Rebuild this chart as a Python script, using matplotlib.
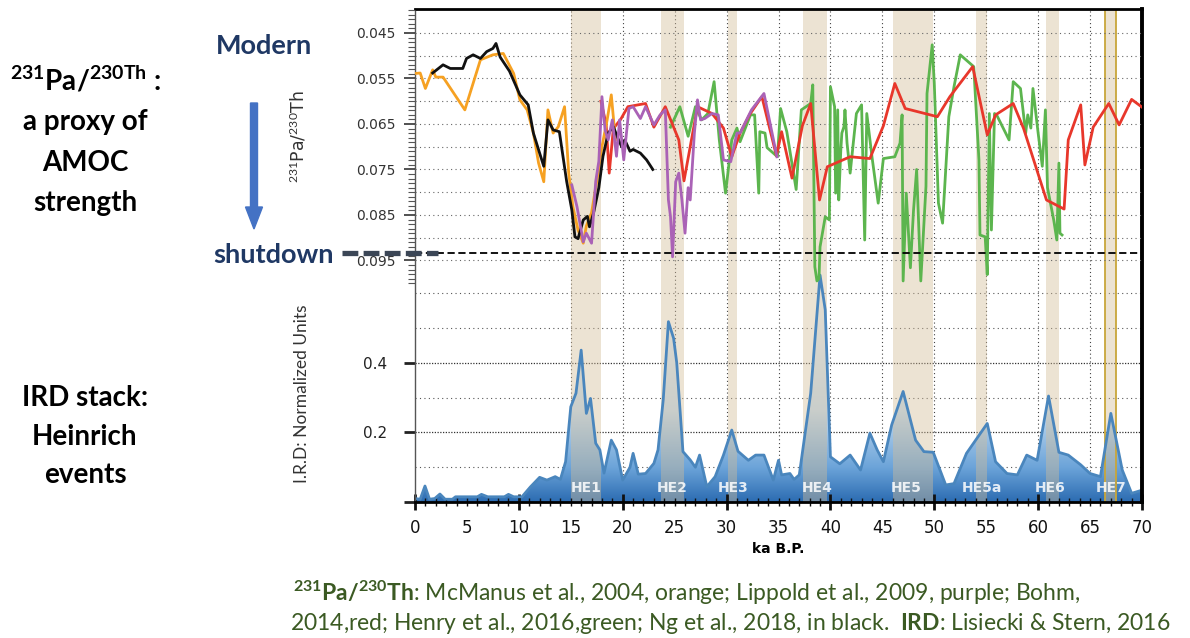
import numpy as np
import matplotlib
matplotlib.use("Agg")
import matplotlib.pyplot as plt
from matplotlib.colors import LinearSegmentedColormap
from matplotlib.patches import FancyArrow
from matplotlib.ticker import FixedLocator, MultipleLocator, FuncFormatter, NullFormatter

plt.rcParams['mathtext.fontset'] = 'custom'
plt.rcParams['mathtext.rm'] = 'Lato'
plt.rcParams['mathtext.bf'] = 'Lato:bold'
plt.rcParams['mathtext.it'] = 'Lato:italic'

# ---- IRD stack (Lisiecki & Stern 2016), normalized units ----
ird_age = [0.0, 0.5, 0.96, 1.4, 1.9, 2.4, 2.9, 3.6, 3.9, 6.0, 6.4, 7.0, 8.6, 9.0, 9.5,
           10.3, 11.1, 12.0, 12.7, 13.5, 14.0, 14.5, 15.0, 15.5, 16.0, 16.5, 16.9,
           17.4, 17.8, 18.2, 18.9, 19.4, 20.0, 20.7, 21.0, 21.5, 22.2, 23.0, 23.4,
           23.9, 24.4, 24.9, 25.2, 25.8, 26.5, 27.0, 27.4, 28.1, 28.9, 29.7, 30.5,
           31.1, 32.1, 32.8, 33.6, 34.5, 35.0, 35.3, 36.1, 36.5, 37.0, 38.1, 39.0,
           39.5, 40.0, 40.9, 41.9, 42.9, 43.8, 44.5, 45.1, 45.9, 47.0, 48.2, 49.0,
           49.9, 51.1, 51.9, 53.1, 55.1, 55.9, 57.0, 58.0, 58.9, 59.9, 61.0, 62.0,
           62.9, 64.1, 65.0, 66.0, 67.0, 68.1, 69.0, 70.0]
ird_val = [0.010, 0.008, 0.046, 0.008, 0.010, 0.023, 0.008, 0.008, 0.015, 0.015, 0.022,
           0.015, 0.015, 0.022, 0.015, 0.015, 0.043, 0.071, 0.063, 0.073, 0.065, 0.116,
           0.274, 0.313, 0.437, 0.255, 0.298, 0.169, 0.150, 0.083, 0.178, 0.150, 0.063,
           0.100, 0.140, 0.080, 0.082, 0.111, 0.150, 0.294, 0.519, 0.471, 0.401, 0.145,
           0.121, 0.100, 0.135, 0.044, 0.073, 0.135, 0.207, 0.146, 0.120, 0.135, 0.135,
           0.063, 0.120, 0.078, 0.082, 0.065, 0.078, 0.313, 0.653, 0.553, 0.130, 0.110,
           0.135, 0.092, 0.198, 0.150, 0.116, 0.222, 0.318, 0.178, 0.145, 0.143, 0.049,
           0.053, 0.140, 0.226, 0.116, 0.082, 0.078, 0.135, 0.120, 0.305, 0.143, 0.135,
           0.107, 0.082, 0.073, 0.255, 0.092, 0.025, 0.034]

# ---- 231Pa/230Th records ----
mcmanus_age = [0.0, 0.5, 1.0, 1.7, 2.0, 2.7, 4.8, 6.3, 7.5, 8.5, 9.5, 10.1, 10.8, 11.4,
               11.9, 12.4, 12.8, 13.3, 13.8, 14.4, 14.8, 15.2, 15.7, 16.2, 16.5, 17.0,
               17.5, 18.0, 18.5, 18.9, 19.3]
mcmanus_val = [0.0539, 0.0538, 0.0572, 0.0531, 0.0547, 0.0547, 0.0619, 0.0509, 0.0498,
               0.0495, 0.0539, 0.0597, 0.0619, 0.0670, 0.0736, 0.0777, 0.0619, 0.0670,
               0.0656, 0.0612, 0.0758, 0.0832, 0.0883, 0.0912, 0.0874, 0.0845, 0.0776,
               0.0700, 0.0641, 0.0586, 0.0685]

ng_age = [1.7, 2.7, 3.4, 4.6, 4.96, 5.6, 6.3, 6.9, 7.5, 7.8, 8.2, 9.1, 10.1, 10.9, 11.4,
          12.0, 12.4, 12.8, 13.3, 13.9, 14.6, 15.1, 15.4, 15.7, 16.2, 16.6, 16.8, 17.2,
          17.7, 18.1, 18.6, 19.1, 19.6, 19.9, 20.2, 20.7, 21.0, 21.7, 22.3, 22.9]
ng_val = [0.0538, 0.0520, 0.0528, 0.0528, 0.0506, 0.0498, 0.0506, 0.0491, 0.0484,
          0.0473, 0.0503, 0.0534, 0.0586, 0.0608, 0.0670, 0.0714, 0.0743, 0.0641,
          0.0663, 0.0667, 0.0776, 0.0839, 0.0898, 0.0902, 0.0861, 0.0853, 0.0876,
          0.0845, 0.0790, 0.0721, 0.0670, 0.0656, 0.0685, 0.0700, 0.0685, 0.0710,
          0.0706, 0.0714, 0.0729, 0.0750]

lippold_age = [15.1, 15.6, 16.2, 16.5, 17.0, 17.4, 17.7, 18.0, 18.3, 18.6, 19.0, 19.4,
               19.7, 20.1, 20.6, 21.0, 21.7, 22.2, 23.0, 23.6, 24.1, 24.4, 24.6, 24.8,
               25.1, 25.4, 25.7, 26.0, 26.3, 26.5, 26.9, 27.2, 27.5, 27.9, 28.6, 29.2,
               29.7, 30.4, 31.0, 31.3, 32.4, 33.6, 34.85]
lippold_val = [0.0784, 0.0832, 0.0909, 0.0890, 0.0912, 0.0776, 0.0732, 0.0590, 0.0663,
               0.0685, 0.0641, 0.0721, 0.0641, 0.0729, 0.0616, 0.0612, 0.0638, 0.0612,
               0.0652, 0.0630, 0.0619, 0.0817, 0.0853, 0.0942, 0.0777, 0.0758, 0.0817,
               0.0890, 0.0790, 0.0817, 0.0670, 0.0597, 0.0641, 0.0638, 0.0627, 0.0630,
               0.0729, 0.0733, 0.0670, 0.0670, 0.0619, 0.0583, 0.0722]

bohm_age = [17.9, 18.4, 18.7, 19.1, 19.8, 20.5, 22.2, 23.0, 24.1, 25.4, 25.9, 27.2, 28.6,
            29.7, 30.5, 31.3, 32.2, 33.4, 34.8, 35.3, 36.3, 37.3, 38.1, 38.95, 39.7, 41.9,
            43.8, 45.1, 46.2, 47.2, 50.3, 51.5, 53.7, 55.1, 55.9, 57.6, 58.6, 60.8, 62.5,
            62.9, 64.1, 64.5, 65.3, 66.8, 67.8, 69.0, 70.0]
bohm_val = [0.0600, 0.0650, 0.0758, 0.0660, 0.0640, 0.0612, 0.0605, 0.0657, 0.0612,
            0.0685, 0.0775, 0.0612, 0.0627, 0.0659, 0.0722, 0.0670, 0.0630, 0.0590,
            0.0720, 0.0667, 0.0769, 0.0654, 0.0605, 0.0817, 0.0744, 0.0722, 0.0726,
            0.0654, 0.0561, 0.0616, 0.0634, 0.0590, 0.0524, 0.0674, 0.0630, 0.0605,
            0.0660, 0.0817, 0.0837, 0.0685, 0.0608, 0.0740, 0.0657, 0.0605, 0.0652,
            0.0596, 0.0613]

henry_age = [24.6, 25.5, 26.3, 27.0, 27.6, 28.2, 28.8, 29.3, 29.9, 30.5, 31.0, 31.3, 32.3,
             32.7, 33.1, 33.2, 33.7, 33.9, 34.9, 35.2, 35.8, 36.7, 37.2, 38.1, 38.3, 38.5,
             38.7, 38.9, 39.0, 39.5, 39.9, 40.0, 40.4, 40.5, 40.7, 40.8, 41.0, 41.1, 41.3,
             41.4, 41.6, 41.9, 42.2, 42.5, 43.0, 43.3, 43.5, 44.0, 44.6, 45.1, 46.2, 46.7,
             46.9, 47.0, 47.3, 47.7, 48.0, 48.3, 48.7, 49.2, 49.3, 49.8, 50.0, 50.4, 50.8,
             51.4, 51.9, 52.5, 53.8, 54.3, 54.4, 54.9, 55.1, 55.3, 55.5, 55.8, 56.0, 57.2,
             57.6, 58.3, 58.8, 59.0, 59.3, 59.5, 60.0, 60.4, 60.7, 60.9, 61.5, 61.8, 62.0,
             62.1, 62.3]
henry_val = [0.0657, 0.0612, 0.0677, 0.0612, 0.0641, 0.0627, 0.0557, 0.0685, 0.0802,
             0.0685, 0.0659, 0.0689, 0.0630, 0.0630, 0.0802, 0.0667, 0.0670, 0.0702,
             0.0722, 0.0616, 0.0667, 0.0794, 0.0619, 0.0605, 0.0564, 0.0964, 0.0995,
             0.0990, 0.0920, 0.0854, 0.0861, 0.0568, 0.0612, 0.0802, 0.0619, 0.0817,
             0.0707, 0.0670, 0.0656, 0.0619, 0.0692, 0.0758, 0.0692, 0.0627, 0.0608,
             0.0905, 0.0627, 0.0722, 0.0824, 0.0726, 0.0722, 0.0692, 0.0630, 0.0995,
             0.0802, 0.0966, 0.0840, 0.0750, 0.0995, 0.0787, 0.0583, 0.0476, 0.0561,
             0.0824, 0.0868, 0.0634, 0.0568, 0.0498, 0.0524, 0.0729, 0.0894, 0.0898,
             0.0981, 0.0627, 0.0883, 0.0627, 0.0630, 0.0685, 0.0557, 0.0572, 0.0670,
             0.0630, 0.0659, 0.0572, 0.0670, 0.0743, 0.0619, 0.0790, 0.0861, 0.0905,
             0.0736, 0.0890, 0.0894]

# ---- Heinrich events (start, end, label position) ----
he_names = ['HE1', 'HE2', 'HE3', 'HE4', 'HE5', 'HE5a', 'HE6', 'HE7']
he_start = [15.0, 23.7, 30.1, 37.4, 46.0, 54.0, 60.8, 66.4]
he_end = [17.9, 25.9, 31.0, 39.7, 49.9, 55.1, 62.0, 67.5]
he_label_x = [16.5, 24.8, 30.6, 38.7, 47.3, 54.6, 61.2, 67.0]

shutdown_level = 0.0933

fig = plt.figure(figsize=(11.9, 6.38), dpi=100)
ax = fig.add_axes([415 / 1190, 1 - 502 / 638, 727 / 1190, 493 / 638])
ax2 = ax.twinx()

# ---------- IRD panel (ax) ----------
ax.set_xlim(0, 70)
ax.set_ylim(0, 1.4187)
for yv in [0.1, 0.3, 0.5, 0.6]:
    ax.axhline(yv, color='#555555', lw=0.8, ls=(0, (1, 3)), zorder=0)
for yv in [0.2, 0.4]:
    ax.axhline(yv, color='#333333', lw=0.9, ls=(0, (1, 1.2)), zorder=0)
for xv in [15, 20, 25, 30, 35, 40, 45, 50, 55, 60, 65]:
    ax.axvline(xv, color='#444444', lw=0.8, ls=(0, (1, 2.5)), zorder=0)

poly = ax.fill_between(ird_age, ird_val, 0, color='none', lw=0, zorder=1)
cmap = LinearSegmentedColormap.from_list(
    'ird', [(0, '#2c6cb2'), (0.15, '#6ca4d9'), (0.4, '#c4dbf0'), (1, '#f6f9fc')])
grad = np.linspace(0, 1, 256).reshape(-1, 1)
img = ax.imshow(grad, extent=(0, 70, 0, 0.66), origin='lower', aspect='auto',
                cmap=cmap, zorder=1, interpolation='bilinear')
img.set_clip_path(poly.get_paths()[0], transform=ax.transData)

# Heinrich event bands
for s, e in zip(he_start, he_end):
    ax.axvspan(s, e, color='#d3bd98', alpha=0.42, lw=0, zorder=1.5)
ax.axvline(he_start[-1], color='#c8a63a', lw=1.3, zorder=1.6)
ax.axvline(he_end[-1], color='#c8a63a', lw=1.3, zorder=1.6)

ax.plot(ird_age, ird_val, color='#4a86bd', lw=2.0, zorder=2)
ax.set_xlim(0, 70)
ax.set_ylim(0, 1.4187)

ax.yaxis.set_major_locator(FixedLocator([0, 0.2, 0.4]))
ax.yaxis.set_major_formatter(FuncFormatter(lambda v, p: '' if v == 0 else f'{v:.1f}'))
ax.tick_params(axis='y', which='major', direction='out', length=8, width=2,
               labelsize=11, colors='#222222', pad=12)
ax.xaxis.set_major_locator(MultipleLocator(10))
ax.xaxis.set_minor_locator(MultipleLocator(1))
ax.xaxis.set_minor_formatter(FuncFormatter(
    lambda v, p: f'{int(round(v))}' if round(v) % 5 == 0 else ''))
ax.tick_params(axis='x', which='major', direction='inout', length=12, width=2,
               labelsize=12, pad=6, colors='#111111')
ax.tick_params(axis='x', which='minor', direction='inout', length=6, width=1,
               labelsize=12, pad=9, colors='#111111')
ax.set_xlabel('ka B.P.', fontsize=10, fontweight='bold', labelpad=4)
ax.set_ylabel('I.R.D: Normalized Units', fontsize=12.5, family='Lato', color='#333333')
ax.yaxis.set_label_coords(-0.145, 0.22)

for side, lw, col in [('top', 2.0, 'black'), ('right', 2.8, 'black'),
                      ('bottom', 2.0, 'black'), ('left', 1.0, '#555555')]:
    ax.spines[side].set_linewidth(lw)
    ax.spines[side].set_color(col)

# ---------- Pa/Th panel (ax2) ----------
ax2.set_ylim(0.14808, 0.03973)
for side in ax2.spines:
    ax2.spines[side].set_visible(False)
for yv in np.arange(0.045, 0.0951, 0.005):
    ax2.axhline(yv, color='#666666', lw=0.8, ls=(0, (1, 3)), zorder=0)

ax2.plot(henry_age, henry_val, color='#5cb54e', lw=2.0, zorder=3)
ax2.plot(bohm_age, bohm_val, color='#e8372b', lw=2.0, zorder=3.1)
ax2.plot(mcmanus_age, mcmanus_val, color='#f6a122', lw=2.0, zorder=3.2)
ax2.plot(ng_age, ng_val, color='#111111', lw=2.0, zorder=3.3)
ax2.plot(lippold_age, lippold_val, color='#aa62b6', lw=2.0, zorder=3.4)

ax2.axhline(shutdown_level, color='black', lw=1.3, ls=(0, (4, 2)), zorder=4)
ax2.plot([-7.0, 2.2], [shutdown_level, shutdown_level], color='#3b4656', lw=3.8,
         dashes=(3, 1), clip_on=False, zorder=5, solid_capstyle='butt')

for name, xl in zip(he_names, he_label_x):
    ax2.text(xl, 0.028, name, transform=ax2.get_xaxis_transform(), ha='center',
             va='center', color='white', alpha=0.85, fontsize=10, fontweight='bold',
             zorder=6)

ax2.yaxis.tick_left()
ax2.yaxis.set_label_position('left')
ax2.yaxis.set_major_locator(FixedLocator(np.arange(0.045, 0.0951, 0.01)))
ax2.yaxis.set_major_formatter(FuncFormatter(lambda v, p: f'{v:.3f}'))
ax2.yaxis.set_minor_locator(FixedLocator(np.arange(0.040, 0.1005, 0.001)))
ax2.yaxis.set_minor_formatter(NullFormatter())
ax2.tick_params(axis='y', which='major', direction='out', length=8, width=1.2,
                labelsize=10, colors='#333333', pad=6, left=True, right=False,
                labelleft=True, labelright=False)
ax2.tick_params(axis='y', which='minor', direction='out', length=5, width=0.8,
                colors='#555555', left=True, right=False)
ax2.set_ylabel(r'$^{231}$Pa/$^{230}$Th', fontsize=12.5, color='#333333')
ax2.yaxis.set_label_coords(-0.147, 0.74)
ax2.set_xlim(0, 70)

# ---------- left annotations ----------
left_kw = dict(ha='center', va='center', fontsize=20, fontweight='bold',
               family='Lato', color='black')
fig.text(85 / 1190, 1 - 80 / 638, r'$^{\mathbf{231}}$Pa/$^{\mathbf{230Th}}$ :', **left_kw)
fig.text(85 / 1190, 1 - 122 / 638, 'a proxy of', **left_kw)
fig.text(85 / 1190, 1 - 163 / 638, 'AMOC', **left_kw)
fig.text(85 / 1190, 1 - 203 / 638, 'strength', **left_kw)
fig.text(85 / 1190, 1 - 398 / 638, 'IRD stack:', **left_kw)
fig.text(85 / 1190, 1 - 437 / 638, 'Heinrich', **left_kw)
fig.text(85 / 1190, 1 - 475 / 638, 'events', **left_kw)

fig.text(264 / 1190, 1 - 46 / 638, 'Modern', ha='center', va='center', fontsize=19.5,
         fontweight='bold', family='Lato', color='#1f3864')
fig.text(274 / 1190, 1 - 255 / 638, 'shutdown', ha='center', va='center', fontsize=19.5,
         fontweight='bold', family='Lato', color='#1f3864')
fig.add_artist(FancyArrow(2.54, 6.38 - 1.03, 0, -1.26, width=0.07, head_width=0.17,
                          head_length=0.22, length_includes_head=True,
                          color='#4472c4', transform=fig.dpi_scale_trans))

# ---------- footer ----------
foot_kw = dict(ha='left', va='center', fontsize=16.5, family='Lato', color='#3b5a23')
fig.text(293 / 1190, 1 - 593 / 638,
         r'$^{\mathbf{231}}\mathbf{Pa/}^{\mathbf{230}}\mathbf{Th}$: McManus et al., 2004, '
         'orange; Lippold et al., 2009, purple; Bohm,', **foot_kw)
fig.text(290 / 1190, 1 - 624 / 638,
         r'2014,red; Henry et al., 2016,green; Ng et al., 2018, in black.  '
         r'$\mathbf{IRD}$: Lisiecki & Stern, 2016', **foot_kw)

fig.savefig('out.png', dpi=100)
